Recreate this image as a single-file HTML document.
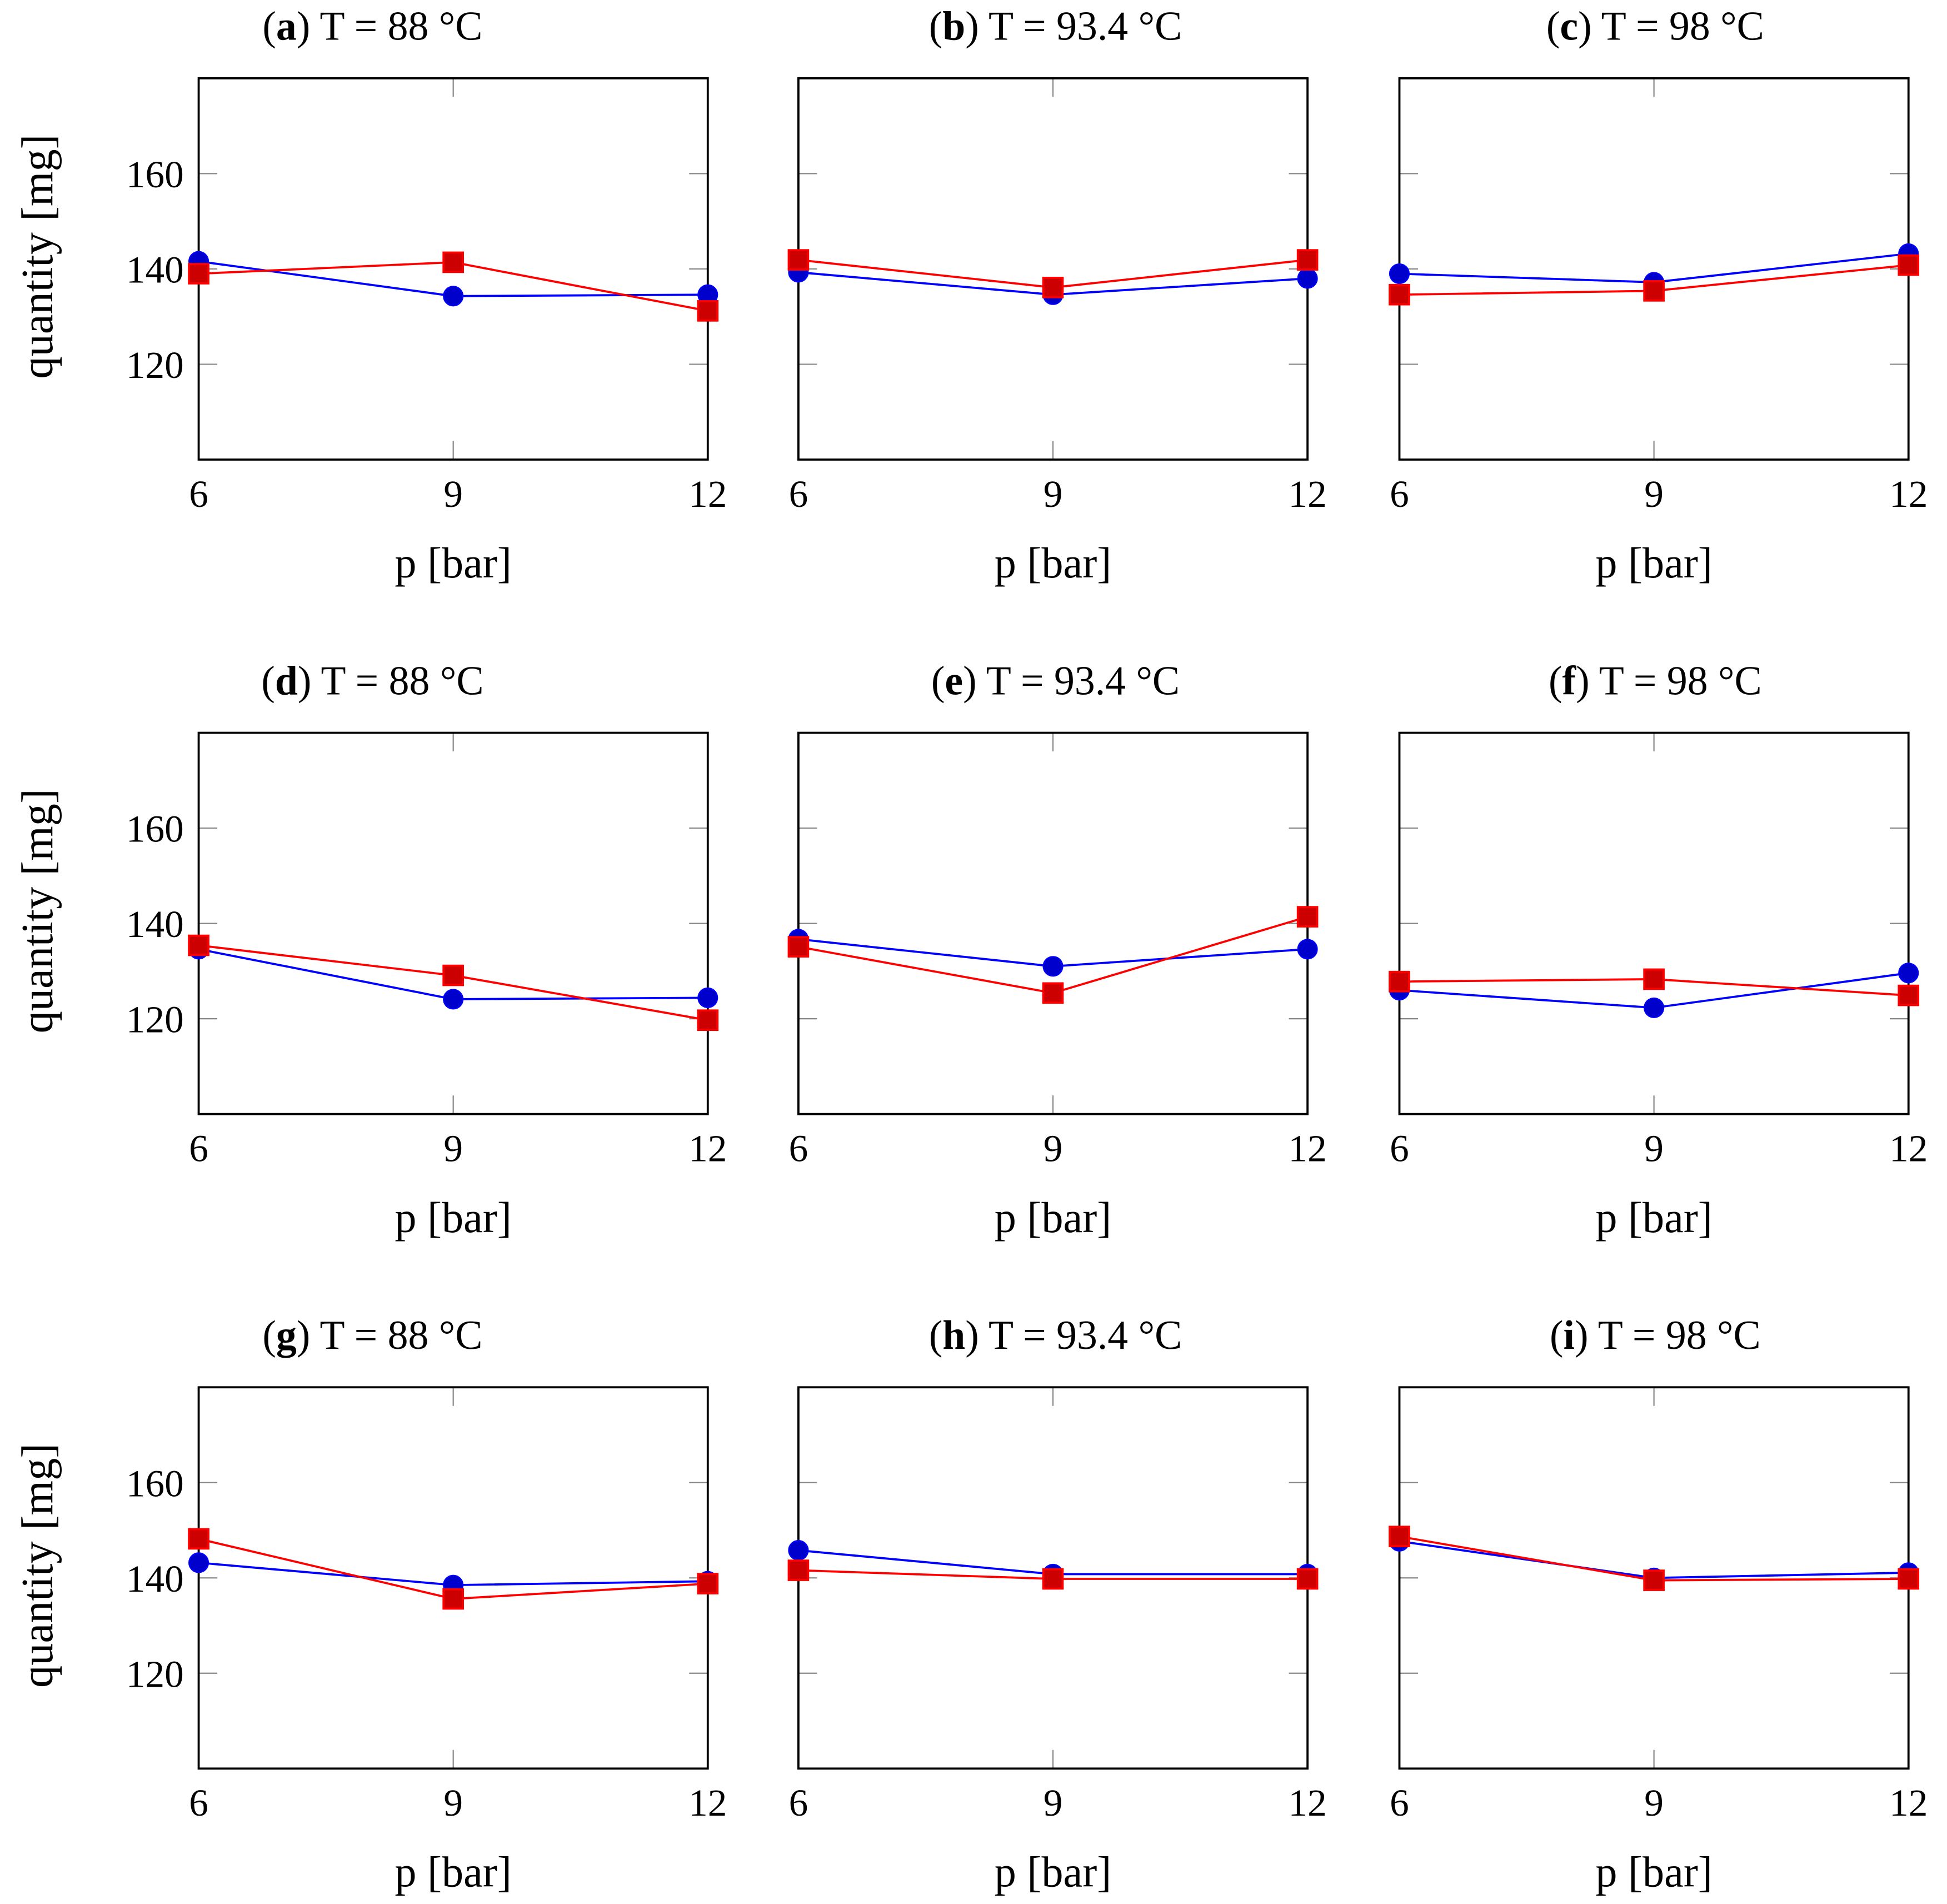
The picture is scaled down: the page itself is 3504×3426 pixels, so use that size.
<!DOCTYPE html>
<html><head><meta charset="utf-8"><style>html,body{margin:0;padding:0;background:#fff}svg{display:block}</style></head>
<body>
<svg id="chart" width="3504" height="3426" viewBox="0 0 1568 1533" xmlns="http://www.w3.org/2000/svg" font-family="Liberation Serif, serif"></svg>
<script>
const pressures = [6, 9, 12];
const yTicks = [120, 140, 160];
const panelLetters = ['a','b','c','d','e','f','g','h','i'];
const panelTemps = ['88','93.4','98','88','93.4','98','88','93.4','98'];
const blueA = [141.6,134.3,134.6];
const redA = [139,141.4,131.2];
const blueB = [139.3,134.6,138];
const redB = [141.9,136.1,141.9];
const blueC = [139,137.2,143.2];
const redC = [134.6,135.4,140.8];
const blueD = [134.6,124.1,124.4];
const redD = [135.4,129.1,119.7];
const blueE = [136.7,131,134.6];
const redE = [135.1,125.4,141.4];
const blueF = [126,122.3,129.6];
const redF = [127.8,128.3,124.9];
const blueG = [143.2,138.5,139.3];
const redG = [148.2,135.6,138.8];
const blueH = [145.8,140.8,140.8];
const redH = [141.6,139.8,139.8];
const blueI = [147.7,140,141.1];
const redI = [148.7,139.5,139.8];
const blues = [blueA,blueB,blueC,blueD,blueE,blueF,blueG,blueH,blueI];
const reds = [redA,redB,redC,redD,redE,redF,redG,redH,redI];

const NS = 'http://www.w3.org/2000/svg';
const svg = document.getElementById('chart');
function mk(tag, attrs, parent, text){
  const e = document.createElementNS(NS, tag);
  for (const k in attrs) e.setAttribute(k, attrs[k]);
  if (text !== undefined) e.textContent = text;
  parent.appendChild(e);
  return e;
}
const colX = [160, 643, 1127];
const rowY = [63, 590, 1117];
const titleCx = [300, 850, 1333];
const W = 410, H = 307;
const yMin = 100, yMax = 180, xMin = 6, xMax = 12;

for (let p = 0; p < 9; p++) {
  const L = colX[p % 3], T = rowY[Math.floor(p / 3)];
  const sx = v => L + (v - xMin) / (xMax - xMin) * W;
  const sy = v => T + H - (v - yMin) / (yMax - yMin) * H;
  const g = mk('g', {}, svg);
  
  
  const title = mk('text', {x: titleCx[p % 3], y: T - 31, 'text-anchor': 'middle', 'font-size': 33}, g);
  
  
  mk('tspan', {}, title, '(');
  mk('tspan', {'font-weight': 'bold'}, title, panelLetters[p]);
  mk('tspan', {}, title, ') T = ' + panelTemps[p] + ' \u00B0C');
  yTicks.forEach(v => {
    const a = mk('line', {x1: L, x2: L + 15, y1: sy(v), y2: sy(v), stroke: '#888', 'stroke-width': 1}, g);
    
    
    const b = mk('line', {x1: L + W - 15, x2: L + W, y1: sy(v), y2: sy(v), stroke: '#888', 'stroke-width': 1}, g);
    
    
    if (p % 3 === 0) {
      const tl = mk('text', {x: L - 12, y: sy(v) + 11, 'text-anchor': 'end', 'font-size': 31}, g, String(v));
      
      
    }
  });
  pressures.forEach(v => {
    const a = mk('line', {x1: sx(v), x2: sx(v), y1: T, y2: T + 15, stroke: '#888', 'stroke-width': 1}, g);
    
    
    const b = mk('line', {x1: sx(v), x2: sx(v), y1: T + H - 15, y2: T + H, stroke: '#888', 'stroke-width': 1}, g);
    
    
    const tl = mk('text', {x: sx(v), y: T + H + 38, 'text-anchor': 'middle', 'font-size': 31}, g, String(v));
    
    
  });
  const fr = mk('rect', {x: L, y: T, width: W, height: H, fill: 'none', stroke: '#000', 'stroke-width': 1.7}, g);
  
  
  const xl = mk('text', {x: L + W/2, y: T + H + 95, 'text-anchor': 'middle', 'font-size': 35}, g, 'p [bar]');
  
  
  if (p % 3 === 0) {
    const yl = mk('text', {x: 0, y: 0, 'text-anchor': 'middle', 'font-size': 36, transform: 'translate(42,' + (T + H/2 - 10) + ') rotate(-90)'}, g, 'quantity [mg]');
    
    
  }
  const bl = mk('polyline', {points: pressures.map((x, i) => sx(x) + ',' + sy(blues[p][i])).join(' '), fill: 'none', stroke: '#0000ff', 'stroke-width': 1.7}, g);
  
  
  const rl = mk('polyline', {points: pressures.map((x, i) => sx(x) + ',' + sy(reds[p][i])).join(' '), fill: 'none', stroke: '#ff0000', 'stroke-width': 1.7}, g);
  
  
  pressures.forEach((x, i) => {
    const c = mk('circle', {cx: sx(x), cy: sy(blues[p][i]), r: 7.8, fill: '#0000cc', stroke: '#0000ff', 'stroke-width': 1}, g);
    
    
  });
  pressures.forEach((x, i) => {
    const s = mk('rect', {x: sx(x) - 7.8, y: sy(reds[p][i]) - 7.8, width: 15.6, height: 15.6, fill: '#cc0000', stroke: '#ff0000', 'stroke-width': 1.7}, g);
    
    
  });
}
</script>
</body></html>
